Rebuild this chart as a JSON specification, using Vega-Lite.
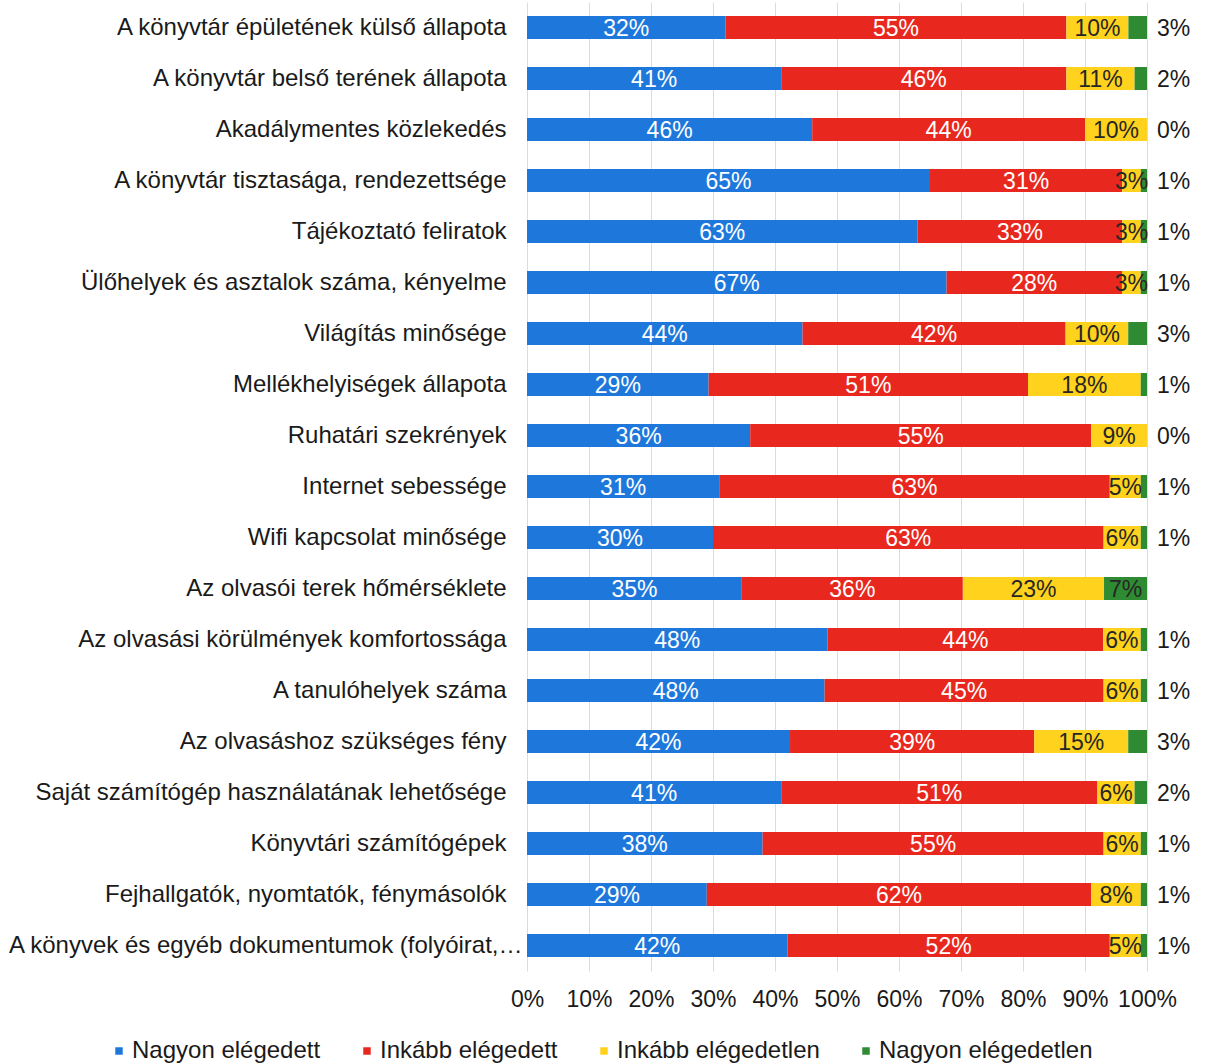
{
  "$schema": "https://vega.github.io/schema/vega-lite/v6.json",
  "autosize": {"type": "none"},
  "width": 620,
  "height": 969,
  "padding": {"left": 527, "top": 2, "right": 59, "bottom": 93},
  "background": "white",
  "config": {
    "view": {"stroke": null},
    "font": "Liberation Sans",
    "text": {"font": "Liberation Sans"}
  },
  "data": {
    "values": [
      {"category": "A könyvtár épületének külső állapota", "series": "Nagyon elégedett", "value": 32},
      {"category": "A könyvtár épületének külső állapota", "series": "Inkább elégedett", "value": 55},
      {"category": "A könyvtár épületének külső állapota", "series": "Inkább elégedetlen", "value": 10},
      {"category": "A könyvtár épületének külső állapota", "series": "Nagyon elégedetlen", "value": 3},
      {"category": "A könyvtár belső terének állapota", "series": "Nagyon elégedett", "value": 41},
      {"category": "A könyvtár belső terének állapota", "series": "Inkább elégedett", "value": 46},
      {"category": "A könyvtár belső terének állapota", "series": "Inkább elégedetlen", "value": 11},
      {"category": "A könyvtár belső terének állapota", "series": "Nagyon elégedetlen", "value": 2},
      {"category": "Akadálymentes közlekedés", "series": "Nagyon elégedett", "value": 46},
      {"category": "Akadálymentes közlekedés", "series": "Inkább elégedett", "value": 44},
      {"category": "Akadálymentes közlekedés", "series": "Inkább elégedetlen", "value": 10},
      {"category": "Akadálymentes közlekedés", "series": "Nagyon elégedetlen", "value": 0},
      {"category": "A könyvtár tisztasága, rendezettsége", "series": "Nagyon elégedett", "value": 65},
      {"category": "A könyvtár tisztasága, rendezettsége", "series": "Inkább elégedett", "value": 31},
      {"category": "A könyvtár tisztasága, rendezettsége", "series": "Inkább elégedetlen", "value": 3},
      {"category": "A könyvtár tisztasága, rendezettsége", "series": "Nagyon elégedetlen", "value": 1},
      {"category": "Tájékoztató feliratok", "series": "Nagyon elégedett", "value": 63},
      {"category": "Tájékoztató feliratok", "series": "Inkább elégedett", "value": 33},
      {"category": "Tájékoztató feliratok", "series": "Inkább elégedetlen", "value": 3},
      {"category": "Tájékoztató feliratok", "series": "Nagyon elégedetlen", "value": 1},
      {"category": "Ülőhelyek és asztalok száma, kényelme", "series": "Nagyon elégedett", "value": 67},
      {"category": "Ülőhelyek és asztalok száma, kényelme", "series": "Inkább elégedett", "value": 28},
      {"category": "Ülőhelyek és asztalok száma, kényelme", "series": "Inkább elégedetlen", "value": 3},
      {"category": "Ülőhelyek és asztalok száma, kényelme", "series": "Nagyon elégedetlen", "value": 1},
      {"category": "Világítás minősége", "series": "Nagyon elégedett", "value": 44},
      {"category": "Világítás minősége", "series": "Inkább elégedett", "value": 42},
      {"category": "Világítás minősége", "series": "Inkább elégedetlen", "value": 10},
      {"category": "Világítás minősége", "series": "Nagyon elégedetlen", "value": 3},
      {"category": "Mellékhelyiségek állapota", "series": "Nagyon elégedett", "value": 29},
      {"category": "Mellékhelyiségek állapota", "series": "Inkább elégedett", "value": 51},
      {"category": "Mellékhelyiségek állapota", "series": "Inkább elégedetlen", "value": 18},
      {"category": "Mellékhelyiségek állapota", "series": "Nagyon elégedetlen", "value": 1},
      {"category": "Ruhatári szekrények", "series": "Nagyon elégedett", "value": 36},
      {"category": "Ruhatári szekrények", "series": "Inkább elégedett", "value": 55},
      {"category": "Ruhatári szekrények", "series": "Inkább elégedetlen", "value": 9},
      {"category": "Ruhatári szekrények", "series": "Nagyon elégedetlen", "value": 0},
      {"category": "Internet sebessége", "series": "Nagyon elégedett", "value": 31},
      {"category": "Internet sebessége", "series": "Inkább elégedett", "value": 63},
      {"category": "Internet sebessége", "series": "Inkább elégedetlen", "value": 5},
      {"category": "Internet sebessége", "series": "Nagyon elégedetlen", "value": 1},
      {"category": "Wifi kapcsolat minősége", "series": "Nagyon elégedett", "value": 30},
      {"category": "Wifi kapcsolat minősége", "series": "Inkább elégedett", "value": 63},
      {"category": "Wifi kapcsolat minősége", "series": "Inkább elégedetlen", "value": 6},
      {"category": "Wifi kapcsolat minősége", "series": "Nagyon elégedetlen", "value": 1},
      {"category": "Az olvasói terek hőmérséklete", "series": "Nagyon elégedett", "value": 35},
      {"category": "Az olvasói terek hőmérséklete", "series": "Inkább elégedett", "value": 36},
      {"category": "Az olvasói terek hőmérséklete", "series": "Inkább elégedetlen", "value": 23},
      {"category": "Az olvasói terek hőmérséklete", "series": "Nagyon elégedetlen", "value": 7},
      {"category": "Az olvasási körülmények komfortossága", "series": "Nagyon elégedett", "value": 48},
      {"category": "Az olvasási körülmények komfortossága", "series": "Inkább elégedett", "value": 44},
      {"category": "Az olvasási körülmények komfortossága", "series": "Inkább elégedetlen", "value": 6},
      {"category": "Az olvasási körülmények komfortossága", "series": "Nagyon elégedetlen", "value": 1},
      {"category": "A tanulóhelyek száma", "series": "Nagyon elégedett", "value": 48},
      {"category": "A tanulóhelyek száma", "series": "Inkább elégedett", "value": 45},
      {"category": "A tanulóhelyek száma", "series": "Inkább elégedetlen", "value": 6},
      {"category": "A tanulóhelyek száma", "series": "Nagyon elégedetlen", "value": 1},
      {"category": "Az olvasáshoz szükséges fény", "series": "Nagyon elégedett", "value": 42},
      {"category": "Az olvasáshoz szükséges fény", "series": "Inkább elégedett", "value": 39},
      {"category": "Az olvasáshoz szükséges fény", "series": "Inkább elégedetlen", "value": 15},
      {"category": "Az olvasáshoz szükséges fény", "series": "Nagyon elégedetlen", "value": 3},
      {"category": "Saját számítógép használatának lehetősége", "series": "Nagyon elégedett", "value": 41},
      {"category": "Saját számítógép használatának lehetősége", "series": "Inkább elégedett", "value": 51},
      {"category": "Saját számítógép használatának lehetősége", "series": "Inkább elégedetlen", "value": 6},
      {"category": "Saját számítógép használatának lehetősége", "series": "Nagyon elégedetlen", "value": 2},
      {"category": "Könyvtári számítógépek", "series": "Nagyon elégedett", "value": 38},
      {"category": "Könyvtári számítógépek", "series": "Inkább elégedett", "value": 55},
      {"category": "Könyvtári számítógépek", "series": "Inkább elégedetlen", "value": 6},
      {"category": "Könyvtári számítógépek", "series": "Nagyon elégedetlen", "value": 1},
      {"category": "Fejhallgatók, nyomtatók, fénymásolók", "series": "Nagyon elégedett", "value": 29},
      {"category": "Fejhallgatók, nyomtatók, fénymásolók", "series": "Inkább elégedett", "value": 62},
      {"category": "Fejhallgatók, nyomtatók, fénymásolók", "series": "Inkább elégedetlen", "value": 8},
      {"category": "Fejhallgatók, nyomtatók, fénymásolók", "series": "Nagyon elégedetlen", "value": 1},
      {"category": "A könyvek és egyéb dokumentumok (folyóirat,…", "series": "Nagyon elégedett", "value": 42},
      {"category": "A könyvek és egyéb dokumentumok (folyóirat,…", "series": "Inkább elégedett", "value": 52},
      {"category": "A könyvek és egyéb dokumentumok (folyóirat,…", "series": "Inkább elégedetlen", "value": 5},
      {"category": "A könyvek és egyéb dokumentumok (folyóirat,…", "series": "Nagyon elégedetlen", "value": 1}
    ]
  },
  "transform": [
    {"calculate": "indexof(['Nagyon elégedett','Inkább elégedett','Inkább elégedetlen','Nagyon elégedetlen'], datum.series)", "as": "idx"},
    {"stack": "value", "groupby": ["category"], "sort": [{"field": "idx", "order": "ascending"}], "as": ["x0", "x1"], "offset": "normalize"},
    {"calculate": "(datum.x0 + datum.x1) / 2", "as": "mid"},
    {"calculate": "datum.value + '%'", "as": "label"}
  ],
  "encoding": {
    "y": {
      "field": "category",
      "type": "nominal",
      "sort": null,
      "scale": {"paddingInner": 0.55, "paddingOuter": 0.275},
      "axis": {
        "title": null, "ticks": false, "domain": false, "labelFontSize": 24, "labelColor": "#1a1a1a",
        "labelPadding": {"condition": {"test": "indexof(datum.value, 'A könyvek') == 0", "value": 5}, "value": 21},
        "labelLimit": 600, "labelFont": "Liberation Sans"
      }
    }
  },
  "layer": [
    {
      "mark": {"type": "bar"},
      "encoding": {
        "x": {
          "field": "x0", "type": "quantitative",
          "scale": {"domain": [0, 1], "nice": false},
          "axis": {"title": null, "format": ".0%", "values": [0,0.1,0.2,0.3,0.4,0.5,0.6,0.7,0.8,0.9,1], "labelOverlap": false, "labelFlush": false, "grid": true, "gridColor": "#dcdcdc", "ticks": false, "domain": false, "labelFontSize": 23, "labelColor": "#1a1a1a", "labelPadding": 17, "labelFont": "Liberation Sans"}
        },
        "x2": {"field": "x1"},
        "color": {
          "field": "series", "type": "nominal",
          "scale": {
            "domain": ["Nagyon elégedett", "Inkább elégedett", "Inkább elégedetlen", "Nagyon elégedetlen"],
            "range": ["#1E78DC", "#E8281E", "#FFD21E", "#2E8B32"]
          },
          "legend": {
            "title": null, "orient": "none", "direction": "horizontal", "columns": 4,
            "legendX": -420, "legendY": 1037,
            "symbolType": "square", "symbolSize": 56, "symbolStrokeWidth": 0,
            "labelFontSize": 24, "labelColor": "#1a1a1a", "labelFont": "Liberation Sans",
            "labelOffset": 1, "columnPadding": 34, "labelLimit": 400
          }
        }
      }
    },
    {
      "transform": [{"filter": "!(datum.series == 'Nagyon elégedetlen' && datum.value < 5)"}],
      "mark": {"type": "text", "fontSize": 23, "baseline": "middle", "align": "center", "font": "Liberation Sans", "dy": 1},
      "encoding": {
        "x": {"field": "mid", "type": "quantitative"},
        "text": {"field": "label"},
        "color": {
          "condition": {"test": "datum.idx < 2", "value": "#ffffff"},
          "value": "#262626"
        }
      }
    },
    {
      "transform": [{"filter": "datum.series == 'Nagyon elégedetlen' && datum.value < 5"}],
      "mark": {"type": "text", "fontSize": 23, "baseline": "middle", "align": "left", "dx": 10, "font": "Liberation Sans", "color": "#1a1a1a", "dy": 1},
      "encoding": {
        "x": {"field": "x1", "type": "quantitative"},
        "text": {"field": "label"}
      }
    }
  ]
}
